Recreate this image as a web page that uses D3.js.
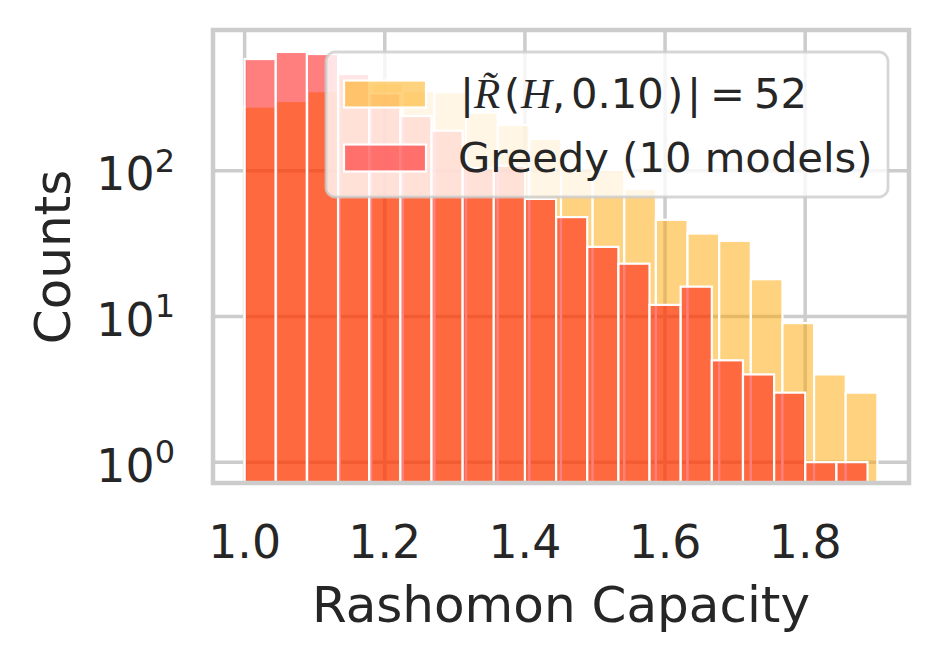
<!DOCTYPE html>
<html>
<head>
<meta charset="utf-8">
<script src="https://cdn.jsdelivr.net/npm/d3@7"></script>
<style>
  html, body { margin: 0; padding: 0; background: #ffffff; }
  svg { display: block; }
  text { font-family: "DejaVu Sans", sans-serif; fill: #262626; }
</style>
</head>
<body>
<svg id="chart" width="940" height="662"></svg>
<script>
// ---- data ----
const xTicks = [1.0, 1.2, 1.4, 1.6, 1.8];
const xTickLabels = ["1.0", "1.2", "1.4", "1.6", "1.8"];
const yTicks = [1, 10, 100];
const yTickExponents = ["0", "1", "2"];

const nBins = 20;
const rashomonRange = [1.0, 1.903];   // |R(H,0.10)| = 52 histogram range
const greedyRange = [1.0, 1.889];     // Greedy (10 models) histogram range
const rashomonCounts = [275, 301, 351, 430, 397, 352, 345, 250, 206, 165,
                        104, 101, 75, 46, 37, 33, 18, 9, 4, 3];
const greedyCounts = [583, 652, 631, 460, 339, 237, 188, 104, 108, 64,
                      48, 30, 23, 12, 16, 5, 4, 3, 1, 1];

const seriesNames = ["|R\u0303(H, 0.10)| = 52", "Greedy (10 models)"];
const seriesColors = ["#ffa500", "#ff0000"];

// math pieces of the first legend label: [text, x offset from label start, font]
const mathPieces = [
  ["|", 1, "sans"], ["R\u0303", 15, "cal"], ["(", 45, "sans"], ["H", 62, "cal"],
  [",", 93, "sans"], ["0.10", 112, "sans"], [")", 208, "sans"], ["|", 228, "sans"],
  ["=", 251, "sans"], ["52", 295, "sans"]
];

// ---- layout ----
const plot = { left: 213, right: 909, top: 30, bottom: 483 };
const svg = d3.select("#chart");

const x = d3.scaleLinear().domain([0.95485, 1.94815]).range([plot.left, plot.right]);
const y = d3.scaleLog().domain([0.72, 922]).range([plot.bottom, plot.top]);

// grid
const grid = svg.append("g");
grid.selectAll("line.vx").data(xTicks).join("line")
  .attr("x1", d => x(d)).attr("x2", d => x(d))
  .attr("y1", plot.top).attr("y2", plot.bottom)
  .attr("stroke", "#cccccc").attr("stroke-width", 3.5);
grid.selectAll("line.hy").data(yTicks).join("line")
  .attr("y1", d => y(d)).attr("y2", d => y(d))
  .attr("x1", plot.left).attr("x2", plot.right)
  .attr("stroke", "#cccccc").attr("stroke-width", 3.5);

svg.append("clipPath").attr("id", "clip").append("rect")
  .attr("x", plot.left).attr("y", plot.top)
  .attr("width", plot.right - plot.left).attr("height", plot.bottom - plot.top);

function binsFrom(range, counts) {
  const w = (range[1] - range[0]) / counts.length;
  return counts.map((c, i) => ({ x0: range[0] + i * w, x1: range[0] + (i + 1) * w, c }));
}

const bars = svg.append("g").attr("clip-path", "url(#clip)");
[[rashomonRange, rashomonCounts, seriesColors[0]],
 [greedyRange, greedyCounts, seriesColors[1]]].forEach(([rng, cnt, col]) => {
  bars.append("g").selectAll("rect").data(binsFrom(rng, cnt)).join("rect")
    .attr("x", d => x(d.x0))
    .attr("width", d => x(d.x1) - x(d.x0))
    .attr("y", d => y(d.c))
    .attr("height", d => plot.bottom + 10 - y(d.c))
    .attr("fill", col).attr("fill-opacity", 0.5)
    .attr("stroke", "#ffffff").attr("stroke-width", 2.2);
});

// frame
svg.append("rect")
  .attr("x", plot.left).attr("y", plot.top)
  .attr("width", plot.right - plot.left).attr("height", plot.bottom - plot.top)
  .attr("fill", "none").attr("stroke", "#cccccc").attr("stroke-width", 4.5);

// x tick labels
svg.append("g").selectAll("text").data(xTicks).join("text")
  .attr("x", d => x(d)).attr("y", 558)
  .attr("text-anchor", "middle").attr("font-size", 45.8)
  .text((d, i) => xTickLabels[i]);

// y tick labels (10^k)
const yl = svg.append("g").selectAll("text").data(yTicks).join("text")
  .attr("x", 175).attr("y", d => y(d) + 19.5)
  .attr("text-anchor", "end").attr("font-size", 45.8);
yl.append("tspan").text("10");
yl.append("tspan").attr("font-size", 32).attr("dy", -18.5).text((d, i) => yTickExponents[i]);

// axis labels
svg.append("text").attr("x", (plot.left + plot.right) / 2).attr("y", 622)
  .attr("text-anchor", "middle").attr("font-size", 50).text("Rashomon Capacity");
svg.append("text").attr("transform", "translate(70,257) rotate(-90)")
  .attr("text-anchor", "middle").attr("font-size", 50).text("Counts");

// legend
const lg = svg.append("g");
lg.append("rect").attr("x", 326).attr("y", 52).attr("width", 562).attr("height", 145)
  .attr("rx", 9).attr("ry", 9)
  .attr("fill", "#ffffff").attr("fill-opacity", 0.8)
  .attr("stroke", "#cccccc").attr("stroke-opacity", 0.8).attr("stroke-width", 2.8);
const rowsY = [94, 158];
seriesNames.forEach((name, i) => {
  lg.append("rect").attr("x", 344).attr("y", rowsY[i] - 13.5).attr("width", 82).attr("height", 27)
    .attr("fill", seriesColors[i]).attr("fill-opacity", 0.5)
    .attr("stroke", "#ffffff").attr("stroke-width", 2.2);
});
// row 1: math label
const labelX = 459;
const t1 = lg.append("text").attr("y", rowsY[0] + 14).attr("font-size", 41.7)
  .attr("aria-label", seriesNames[0]);
mathPieces.forEach(([s, dx, f]) => {
  const ts = t1.append("tspan").attr("x", labelX + dx).text(s);
  if (f === "cal") ts.attr("font-family", "Liberation Serif").attr("font-style", "italic").attr("font-size", 43);
});
// row 2
lg.append("text").attr("x", 458).attr("y", rowsY[1] + 14).attr("font-size", 41.7).text(seriesNames[1]);
</script>
</body>
</html>
